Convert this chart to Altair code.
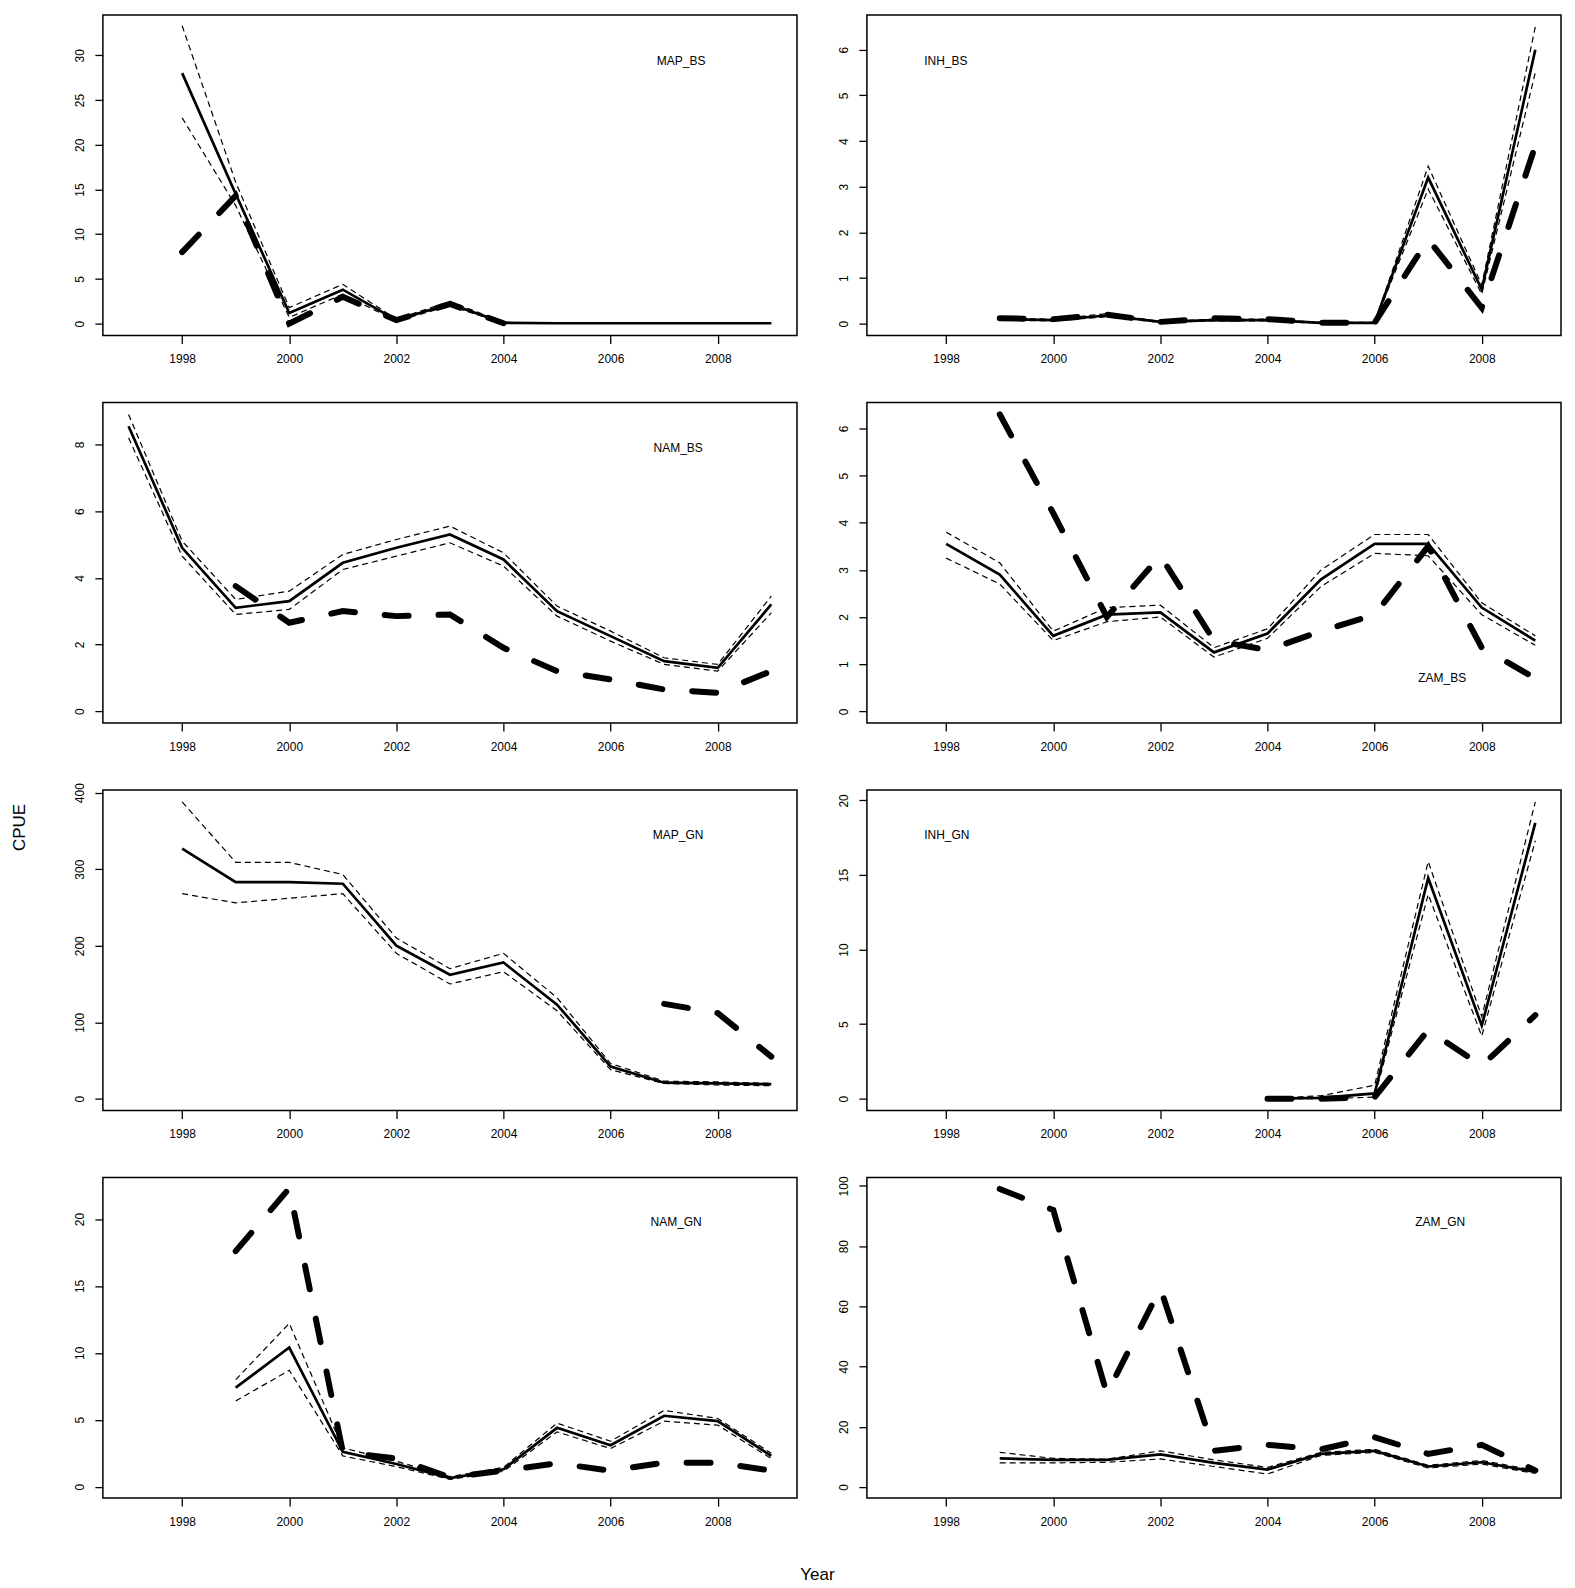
import altair as alt
import pandas as pd

FONT = "Liberation Sans"
X_DOMAIN = [1996.52, 2009.48]
X_TICKS = [1998, 2000, 2002, 2004, 2006, 2008]

# ---- MAP_BS
map_bs_years = list(range(1998, 2010))
map_bs_est = [28.0, 14.5, 1.2, 3.8, 0.4, 2.2, 0.1, 0.05, 0.05, 0.05, 0.05, 0.05]
map_bs_hi = [33.3, 15.8, 1.8, 4.4, 0.5, 2.5, 0.15, 0.06, 0.06, 0.06, 0.06, 0.06]
map_bs_lo = [23.0, 13.2, 0.7, 3.3, 0.3, 2.0, 0.05, 0.04, 0.04, 0.04, 0.04, 0.04]
map_bs_obs_years = list(range(1998, 2005))
map_bs_obs = [8.0, 14.3, 0.0, 3.0, 0.4, 2.2, 0.05]

# ---- INH_BS
inh_bs_years = list(range(1999, 2010))
inh_bs_est = [0.1, 0.08, 0.18, 0.04, 0.08, 0.08, 0.02, 0.02, 3.2, 0.75, 6.0]
inh_bs_hi = [0.12, 0.1, 0.22, 0.05, 0.1, 0.1, 0.03, 0.03, 3.45, 0.85, 6.5]
inh_bs_lo = [0.08, 0.06, 0.15, 0.03, 0.06, 0.06, 0.01, 0.01, 2.95, 0.65, 5.5]
inh_bs_obs_years = list(range(1999, 2010))
inh_bs_obs = [0.12, 0.1, 0.2, 0.04, 0.12, 0.1, 0.02, 0.02, 1.85, 0.35, 3.9]

# ---- NAM_BS
nam_bs_years = list(range(1997, 2010))
nam_bs_est = [8.55, 4.9, 3.1, 3.3, 4.45, 4.9, 5.3, 4.55, 3.0, 2.25, 1.5, 1.3, 3.2]
nam_bs_hi = [8.9, 5.1, 3.35, 3.6, 4.7, 5.15, 5.55, 4.75, 3.15, 2.4, 1.6, 1.4, 3.45]
nam_bs_lo = [8.2, 4.65, 2.9, 3.05, 4.25, 4.65, 5.05, 4.35, 2.85, 2.1, 1.4, 1.2, 2.95]
nam_bs_obs_years = list(range(1999, 2010))
nam_bs_obs = [3.75, 2.65, 3.0, 2.85, 2.9, 1.9, 1.2, 0.95, 0.65, 0.55, 1.2]

# ---- ZAM_BS
zam_bs_years = list(range(1998, 2010))
zam_bs_est = [3.55, 2.9, 1.6, 2.05, 2.1, 1.25, 1.65, 2.8, 3.55, 3.55, 2.2, 1.5]
zam_bs_hi = [3.8, 3.15, 1.7, 2.2, 2.25, 1.35, 1.75, 3.0, 3.75, 3.75, 2.3, 1.6]
zam_bs_lo = [3.25, 2.7, 1.5, 1.9, 2.0, 1.15, 1.55, 2.65, 3.35, 3.3, 2.05, 1.4]
zam_bs_obs_years = list(range(1999, 2010))
zam_bs_obs = [6.3, 4.2, 2.0, 3.3, 1.5, 1.3, 1.7, 2.05, 3.5, 1.35, 0.7]

# ---- MAP_GN
map_gn_years = list(range(1998, 2010))
map_gn_est = [327, 283, 283, 281, 200, 162, 178, 123, 42, 21, 20, 19]
map_gn_hi = [388, 309, 309, 293, 210, 170, 190, 132, 46, 23, 22, 20]
map_gn_lo = [268, 256, 262, 268, 190, 150, 166, 115, 38, 20, 18, 17]
map_gn_obs_years = [2007, 2008, 2009]
map_gn_obs = [124, 112, 55]

# ---- INH_GN
inh_gn_years = list(range(2004, 2010))
inh_gn_est = [0.0, 0.05, 0.35, 14.8, 4.9, 18.5]
inh_gn_hi = [0.0, 0.2, 0.9, 15.9, 5.5, 19.9]
inh_gn_lo = [0.0, 0.0, 0.1, 13.7, 4.2, 17.3]
inh_gn_obs_years = list(range(2004, 2010))
inh_gn_obs = [0.0, 0.0, 0.1, 4.6, 2.2, 5.6]

# ---- NAM_GN
nam_gn_years = list(range(1999, 2010))
nam_gn_est = [7.4, 10.4, 2.6, 1.7, 0.65, 1.3, 4.4, 3.1, 5.3, 4.9, 2.3]
nam_gn_hi = [8.0, 12.2, 2.9, 1.9, 0.75, 1.45, 4.75, 3.4, 5.7, 5.1, 2.5]
nam_gn_lo = [6.4, 8.7, 2.3, 1.5, 0.55, 1.15, 4.1, 2.85, 4.9, 4.6, 2.1]
nam_gn_obs_years = list(range(1999, 2010))
nam_gn_obs = [17.6, 22.3, 2.6, 2.1, 0.7, 1.2, 1.75, 1.2, 1.8, 1.8, 1.2]

# ---- ZAM_GN
zam_gn_years = list(range(1999, 2010))
zam_gn_est = [9.5, 9.0, 9.0, 10.8, 8.0, 5.8, 11.0, 12.0, 6.8, 8.2, 5.0]
zam_gn_hi = [11.5, 9.5, 9.2, 12.0, 9.0, 6.5, 11.5, 12.5, 7.2, 8.8, 5.5]
zam_gn_lo = [8.0, 8.0, 8.2, 9.3, 6.8, 4.3, 10.5, 11.5, 6.3, 7.6, 4.5]
zam_gn_obs_years = list(range(1999, 2010))
zam_gn_obs = [99, 92, 31, 66, 12, 14, 12.5, 16.5, 11, 14, 5.5]

PANELS = [
    dict(name='MAP_BS', years=map_bs_years, est=map_bs_est, hi=map_bs_hi, lo=map_bs_lo,
         obs_years=map_bs_obs_years, obs=map_bs_obs,
         domain=[-1.33, 34.5], ticks=[0, 5, 10, 15, 20, 25, 30], label_at=(579, 46)),
    dict(name='INH_BS', years=inh_bs_years, est=inh_bs_est, hi=inh_bs_hi, lo=inh_bs_lo,
         obs_years=inh_bs_obs_years, obs=inh_bs_obs,
         domain=[-0.26, 6.76], ticks=[0, 1, 2, 3, 4, 5, 6], label_at=(79, 46)),
    dict(name='NAM_BS', years=nam_bs_years, est=nam_bs_est, hi=nam_bs_hi, lo=nam_bs_lo,
         obs_years=nam_bs_obs_years, obs=nam_bs_obs,
         domain=[-0.36, 9.26], ticks=[0, 2, 4, 6, 8], label_at=(576, 46)),
    dict(name='ZAM_BS', years=zam_bs_years, est=zam_bs_est, hi=zam_bs_hi, lo=zam_bs_lo,
         obs_years=zam_bs_obs_years, obs=zam_bs_obs,
         domain=[-0.25, 6.55], ticks=[0, 1, 2, 3, 4, 5, 6], label_at=(576, 276)),
    dict(name='MAP_GN', years=map_gn_years, est=map_gn_est, hi=map_gn_hi, lo=map_gn_lo,
         obs_years=map_gn_obs_years, obs=map_gn_obs,
         domain=[-15.5, 403.5], ticks=[0, 100, 200, 300, 400], label_at=(576, 45)),
    dict(name='INH_GN', years=inh_gn_years, est=inh_gn_est, hi=inh_gn_hi, lo=inh_gn_lo,
         obs_years=inh_gn_obs_years, obs=inh_gn_obs,
         domain=[-0.8, 20.7], ticks=[0, 5, 10, 15, 20], label_at=(80, 45)),
    dict(name='NAM_GN', years=nam_gn_years, est=nam_gn_est, hi=nam_gn_hi, lo=nam_gn_lo,
         obs_years=nam_gn_obs_years, obs=nam_gn_obs,
         domain=[-0.85, 23.1], ticks=[0, 5, 10, 15, 20], label_at=(574, 45)),
    dict(name='ZAM_GN', years=zam_gn_years, est=zam_gn_est, hi=zam_gn_hi, lo=zam_gn_lo,
         obs_years=zam_gn_obs_years, obs=zam_gn_obs,
         domain=[-3.7, 102.8], ticks=[0, 20, 40, 60, 80, 100], label_at=(574, 45)),
]


def _panel(p: dict) -> alt.LayerChart:
    fit = pd.DataFrame({'year': p['years'], 'est': p['est'], 'lo': p['lo'], 'hi': p['hi']})
    obs = pd.DataFrame({'year': p['obs_years'], 'obs': p['obs']})
    label = pd.DataFrame({'label': [p['name']]})

    x_axis = alt.Axis(values=X_TICKS, format='d', title=None, grid=False, domain=False,
                      tickSize=8, tickWidth=1.3, tickColor='black',
                      labelFont=FONT, labelFontSize=12, labelColor='black', labelPadding=10)
    y_axis = alt.Axis(values=p['ticks'], title=None, grid=False, domain=False,
                      tickSize=8, tickWidth=1.3, tickColor='black',
                      labelFont=FONT, labelFontSize=12, labelColor='black', labelPadding=8,
                      labelAngle=270, labelAlign='center', labelBaseline='bottom')
    x = alt.X('year:Q', scale=alt.Scale(domain=X_DOMAIN, nice=False, zero=False), axis=x_axis)
    y_scale = alt.Scale(domain=p['domain'], nice=False, zero=False)

    def y(field):
        return alt.Y(f'{field}:Q', scale=y_scale, axis=y_axis)

    ci_lo = (
        alt.Chart(fit)
        .mark_line(color='black', strokeWidth=1.2, strokeDash=[6, 4])
        .encode(x=x, y=y('lo'))
    )
    ci_hi = (
        alt.Chart(fit)
        .mark_line(color='black', strokeWidth=1.2, strokeDash=[6, 4])
        .encode(x=x, y=y('hi'))
    )
    est = (
        alt.Chart(fit)
        .mark_line(color='black', strokeWidth=2.7)
        .encode(x=x, y=y('est'))
    )
    observed = (
        alt.Chart(obs)
        .mark_line(color='black', strokeWidth=6, strokeDash=[24, 30], strokeCap='round')
        .encode(x=x, y=y('obs'))
    )
    lx, ly = p['label_at']
    text = (
        alt.Chart(label)
        .mark_text(font=FONT, fontSize=12, color='black', align='center', baseline='middle')
        .encode(x=alt.value(lx), y=alt.value(ly), text='label:N')
    )

    return alt.layer(ci_lo, ci_hi, est, observed, text).properties(width=695, height=321)


grid = alt.concat(
    *[_panel(p) for p in PANELS],
    columns=2,
    spacing=alt.RowColnumber(row=67, column=70),
    bounds='flush',
    title=alt.TitleParams('Year', orient='bottom', anchor='middle', offset=39,
                          font=FONT, fontSize=17, fontWeight='normal', color='black'),
)

chart = alt.hconcat(
    grid,
    title=alt.TitleParams('CPUE', orient='left', anchor='middle', offset=44, dx=-29,
                          font=FONT, fontSize=17, fontWeight='normal', color='black'),
).properties(
    padding={'left': 3, 'top': 5, 'right': 5, 'bottom': 5},
    background='white',
).configure_view(stroke='black', strokeWidth=1.5)

chart.save("out.html", embed_options={"renderer": "svg", "actions": False})
